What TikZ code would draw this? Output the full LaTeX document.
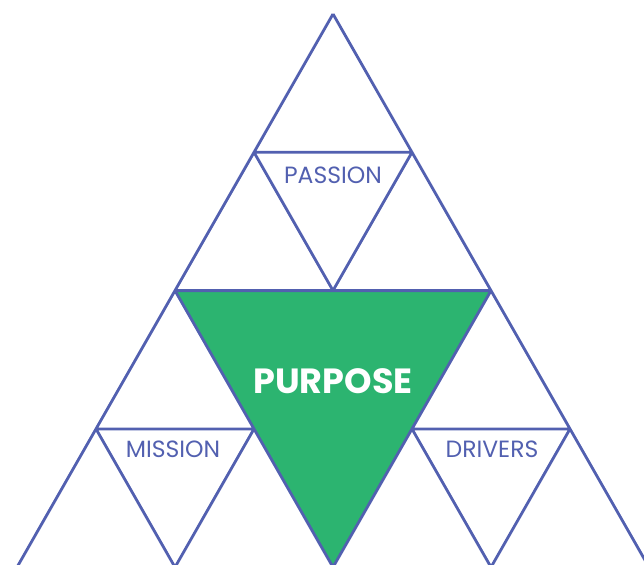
\documentclass[tikz,border=0pt]{standalone}
\usepackage{fontspec}
\setmainfont{Poppins}
\usepackage{tikz}

\definecolor{lineblue}{RGB}{82,96,176}
\definecolor{purposegreen}{RGB}{44,180,112}

\begin{document}
\begin{tikzpicture}[x=1pt,y=-1pt,line join=round,
                    edge/.style={draw=lineblue,line width=2.8pt},
                    label/.style={text=lineblue,font=\fontsize{23.5}{23.5}\selectfont},
                    main label/.style={text=white,font=\bfseries\fontsize{35}{35}\selectfont}]

  \useasboundingbox (0,0) rectangle (644,564);
  \clip (0,0) rectangle (644,564);

  % grid points: row k, position j
  \foreach \k in {0,...,4}
    \foreach \j in {0,...,\k}
      \coordinate (\k-\j) at ({333-79*\k+158*\j},{14+138.3*\k});

  \fill[purposegreen] (2-0) -- (2-2) -- (4-2) -- cycle;

  \path[edge]
    (0-0) -- (4-0)
    (0-0) -- (4-4)
    (1-0) -- (1-1)
    (2-0) -- (2-2)
    (3-0) -- (3-1)
    (3-2) -- (3-3)
    (1-0) -- (2-1) -- (1-1)
    (2-0) -- (4-2) -- (2-2)
    (3-0) -- (4-1) -- (3-1)
    (3-2) -- (4-3) -- (3-3);

  \node[label] (passion) at (333,175) {PASSION};
  \node[label] (mission) at (173,449) {MISSION};
  \node[label] (drivers) at (492,449) {DRIVERS};
  \node[main label] (purpose) at (333,381) {PURPOSE};
\end{tikzpicture}
\end{document}
